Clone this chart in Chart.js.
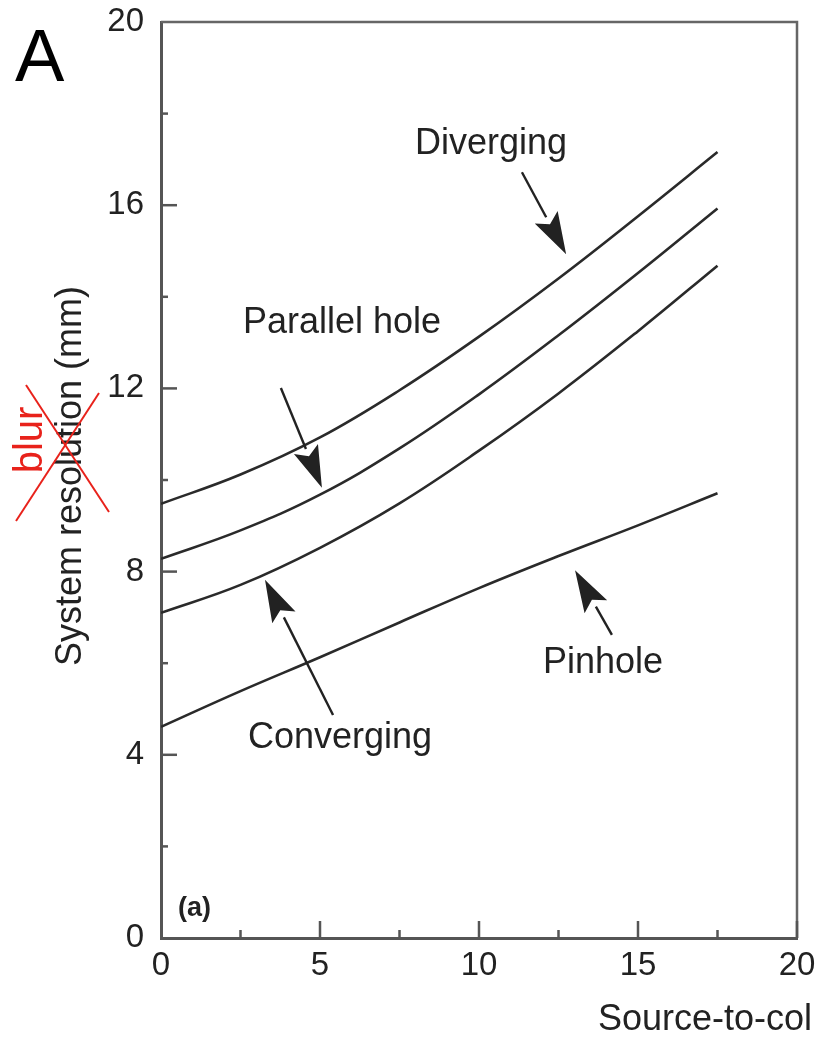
<!DOCTYPE html>
<html>
<head>
<meta charset="utf-8">
<script src="https://cdn.jsdelivr.net/npm/chart.js@4.4.1/dist/chart.umd.min.js"></script>
<style>
html,body{margin:0;padding:0;background:#fff;}
#wrap{width:819px;height:1039px;position:relative;}
</style>
</head>
<body>
<div id="wrap"><canvas id="c" width="819" height="1039"></canvas></div>
<script>
// ---- data ----
const distances = [0, 2.5, 5, 7.5, 10, 12.5, 15, 17.5];
const diverging = [9.48, 10.12, 10.93, 11.96, 13.13, 14.40, 15.76, 17.16];
const parallelHole = [8.28, 8.90, 9.68, 10.69, 11.87, 13.16, 14.52, 15.93];
const converging = [7.10, 7.71, 8.52, 9.49, 10.64, 11.89, 13.25, 14.68];
const pinhole = [4.61, 5.39, 6.13, 6.89, 7.64, 8.34, 9.01, 9.71];
const yTicks = [0, 4, 8, 12, 16, 20];
const xTicks = [0, 5, 10, 15, 20];
const yTitle = "System resolution (mm)";
const xTitle = "Source-to-col";

// annotation labels [text, x, y] in data units
const curveLabels = [
  ["Diverging", 10.38, 17.12],
  ["Parallel hole", 5.69, 13.21],
  ["Converging", 5.63, 4.15],
  ["Pinhole", 13.9, 5.79]
];
// arrows [tailX, tailY, tipX, tipY] in data units
const arrows = [
  [11.35, 16.72, 12.74, 14.93],
  [3.77, 12.01, 5.06, 9.83],
  [5.41, 4.87, 3.27, 7.82],
  [14.18, 6.62, 13.02, 8.03]
];

const FONT = '"Liberation Sans", Arial, Helvetica, sans-serif';
const INK = '#222';
const AXIS = '#555';

function mk(arr){ return distances.map((d,i)=>({x:d,y:arr[i]})); }
function ds(label, arr){
  return {label, data: mk(arr), borderColor:'#2a2a2a', borderWidth:2.6,
    pointRadius:0, fill:false, tension:0.4};
}

const deco = {
  id:'deco',
  afterDraw(chart){
    const ctx = chart.ctx, xs = chart.scales.x, ys = chart.scales.y, ca = chart.chartArea;
    ctx.save();
    // top and right frame
    ctx.strokeStyle = '#666'; ctx.lineWidth = 2.5;
    ctx.beginPath();
    ctx.moveTo(ca.left, ca.top); ctx.lineTo(ca.right, ca.top); ctx.lineTo(ca.right, ca.bottom);
    ctx.stroke();
    // inward ticks
    ctx.strokeStyle = AXIS; ctx.lineWidth = 2.5;
    for (let v = 2; v < 20; v += 2){
      const y = ys.getPixelForValue(v);
      const len = (v % 4 === 0) ? 16 : 7;
      ctx.beginPath(); ctx.moveTo(ca.left, y); ctx.lineTo(ca.left + len, y); ctx.stroke();
    }
    for (let v = 2.5; v <= 20; v += 2.5){
      const x = xs.getPixelForValue(v);
      const len = (v % 5 === 0) ? 17 : 8;
      ctx.beginPath(); ctx.moveTo(x, ca.bottom); ctx.lineTo(x, ca.bottom - len); ctx.stroke();
    }
    // arrows
    ctx.strokeStyle = INK; ctx.fillStyle = INK; ctx.lineWidth = 2.4;
    arrows.forEach(a=>{
      const x1 = xs.getPixelForValue(a[0]), y1 = ys.getPixelForValue(a[1]);
      const x2 = xs.getPixelForValue(a[2]), y2 = ys.getPixelForValue(a[3]);
      const ang = Math.atan2(y2-y1, x2-x1);
      const hl = 42, hw = 13;
      const bx = x2 - hl*Math.cos(ang), by = y2 - hl*Math.sin(ang);
      ctx.beginPath(); ctx.moveTo(x1,y1); ctx.lineTo(bx,by); ctx.stroke();
      ctx.beginPath();
      ctx.moveTo(x2,y2);
      ctx.lineTo(bx + hw*Math.sin(ang), by - hw*Math.cos(ang));
      ctx.lineTo(bx + 8*Math.cos(ang), by + 8*Math.sin(ang));
      ctx.lineTo(bx - hw*Math.sin(ang), by + hw*Math.cos(ang));
      ctx.closePath(); ctx.fill();
    });
    // curve labels
    ctx.fillStyle = INK; ctx.font = '36px ' + FONT;
    ctx.textAlign = 'center'; ctx.textBaseline = 'alphabetic';
    curveLabels.forEach(l=>{
      ctx.fillText(l[0], xs.getPixelForValue(l[1]), ys.getPixelForValue(l[2]));
    });
    // (a)
    ctx.font = 'bold 27px ' + FONT; ctx.textAlign = 'left';
    ctx.fillText('(a)', ca.left + 17, ca.bottom - 22);
    // panel letter
    ctx.fillStyle = '#000'; ctx.font = '74px ' + FONT; ctx.textAlign = 'left';
    ctx.fillText('A', 15, 81);
    // y title
    ctx.fillStyle = INK; ctx.font = '36px ' + FONT;
    ctx.save();
    ctx.translate(81, (ca.top + ca.bottom)/2 - 4);
    ctx.rotate(-Math.PI/2);
    ctx.textAlign = 'center'; ctx.textBaseline = 'alphabetic';
    ctx.fillText(yTitle, 0, 0);
    ctx.restore();
    // x title (clipped by page edge)
    ctx.textAlign = 'left'; ctx.textBaseline = 'alphabetic';
    ctx.fillText(xTitle, 598, 1030);
    // red "blur" annotation
    ctx.fillStyle = '#e8221b'; ctx.font = '40px ' + FONT;
    ctx.save();
    ctx.translate(42, 440);
    ctx.rotate(-Math.PI/2);
    ctx.textAlign = 'center';
    ctx.fillText('blur', 0, 0);
    ctx.restore();
    ctx.strokeStyle = '#e8221b'; ctx.lineWidth = 2;
    ctx.beginPath(); ctx.moveTo(26, 385); ctx.lineTo(109, 512); ctx.stroke();
    ctx.beginPath(); ctx.moveTo(99, 393); ctx.lineTo(16, 521); ctx.stroke();
    ctx.restore();
  }
};

new Chart(document.getElementById('c'), {
  type:'line',
  data:{ datasets:[ ds('Diverging', diverging), ds('Parallel hole', parallelHole),
                    ds('Converging', converging), ds('Pinhole', pinhole) ] },
  options:{
    responsive:false, animation:false, devicePixelRatio:1,
    layout:{ padding:{ top:22, right:22, left:0, bottom:0 } },
    plugins:{ legend:{display:false}, tooltip:{enabled:false}, title:{display:false} },
    scales:{
      x:{ type:'linear', min:0, max:20,
          afterFit(s){ s.height = 101; s.paddingLeft = 0; s.paddingRight = 0; },
          afterBuildTicks(s){ s.ticks = xTicks.map(v=>({value:v})); },
          grid:{ display:true, drawOnChartArea:false, drawTicks:false },
          border:{ display:true, color:AXIS, width:3 },
          ticks:{ color:INK, font:{ family:FONT, size:33 }, padding:8, maxRotation:0 } },
      y:{ type:'linear', min:0, max:20,
          afterFit(s){ s.width = 161; s.paddingTop = 0; s.paddingBottom = 0; },
          afterBuildTicks(s){ s.ticks = yTicks.map(v=>({value:v})); },
          grid:{ display:true, drawOnChartArea:false, drawTicks:false },
          border:{ display:true, color:AXIS, width:3 },
          ticks:{ color:INK, font:{ family:FONT, size:33 }, padding:17 } }
    }
  },
  plugins:[deco]
});
</script>
</body>
</html>
